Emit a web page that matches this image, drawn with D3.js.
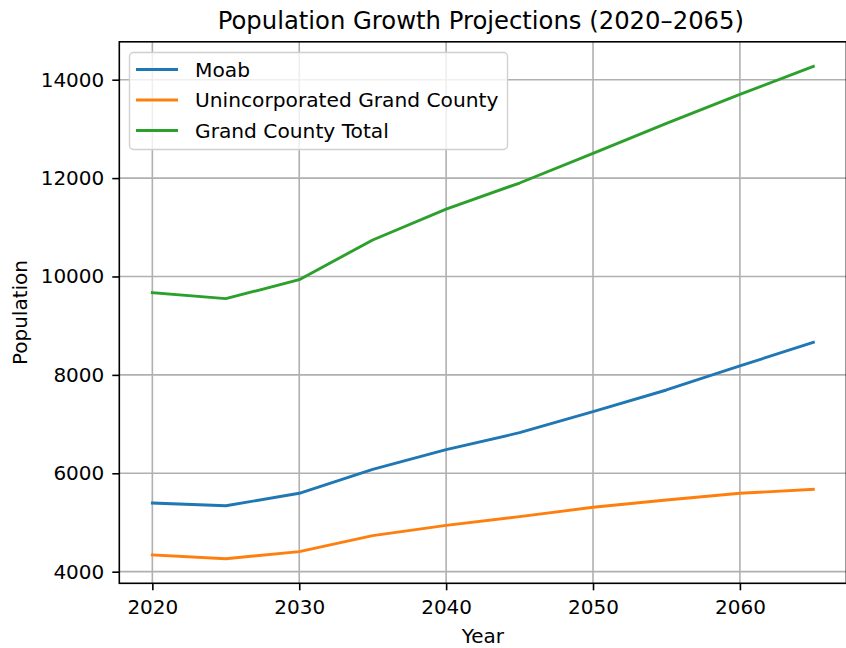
<!DOCTYPE html>
<html>
<head>
<meta charset="utf-8">
<script src="https://cdn.jsdelivr.net/npm/d3@7"></script>
<style>
  html, body { margin: 0; padding: 0; background: #fff; }
  svg { display: block; }
  text { font-family: "DejaVu Sans", sans-serif; fill: #000; }
</style>
</head>
<body>
<svg id="chart" width="846" height="648"></svg>
<script>
const years = [2020, 2025, 2030, 2035, 2040, 2045, 2050, 2055, 2060, 2065];
const moab = [5396, 5341, 5593, 6081, 6480, 6825, 7252, 7693, 8181, 8663];
const unincorporated = [4339, 4264, 4407, 4732, 4940, 5118, 5309, 5457, 5593, 5675];
const grandTotal = [9671, 9549, 9935, 10742, 11370, 11900, 12502, 13112, 13701, 14270];
const seriesNames = ["Moab", "Unincorporated Grand County", "Grand County Total"];
const seriesColors = ["#1f77b4", "#ff7f0e", "#2ca02c"];
const xTicks = [2020, 2030, 2040, 2050, 2060];
const yTicks = [4000, 6000, 8000, 10000, 12000, 14000];
const titleText = "Population Growth Projections (2020\u20132065)";
const xLabel = "Year";
const yLabel = "Population";

(function () {
const series = [moab, unincorporated, grandTotal];

const svg = d3.select("#chart");
const pL = 119.3, pR = 846.4, pT = 41.8, pB = 583.3;

// matplotlib-like 5% margins
const xExt = d3.extent(years);
const xPad = (xExt[1] - xExt[0]) * 0.05;
const allVals = series.flat();
const yExt = d3.extent(allVals);
const yPad = (yExt[1] - yExt[0]) * 0.05;

const x = d3.scaleLinear().domain([xExt[0] - xPad, xExt[1] + xPad]).range([pL, pR]);
const y = d3.scaleLinear().domain([yExt[0] - yPad, yExt[1] + yPad]).range([pB, pT]);

// grid
const grid = svg.append("g");
grid.selectAll(".gx").data(xTicks).enter().append("line")
  .attr("x1", d => x(d)).attr("x2", d => x(d))
  .attr("y1", pT).attr("y2", pB)
  .attr("stroke", "#b0b0b0").attr("stroke-width", 1.6);
grid.selectAll(".gy").data(yTicks).enter().append("line")
  .attr("x1", pL).attr("x2", pR)
  .attr("y1", d => y(d)).attr("y2", d => y(d))
  .attr("stroke", "#b0b0b0").attr("stroke-width", 1.6);

// lines
const line = d3.line().x((d, i) => x(years[i])).y(d => y(d));
series.forEach((s, k) => {
  svg.append("path").datum(s)
    .attr("d", line)
    .attr("fill", "none")
    .attr("stroke", seriesColors[k])
    .attr("stroke-width", 2.9)
    .attr("stroke-linejoin", "round")
    .attr("stroke-linecap", "square");
});

// frame
svg.append("rect").attr("x", pL).attr("y", pT)
  .attr("width", pR - pL).attr("height", pB - pT)
  .attr("fill", "none").attr("stroke", "#000").attr("stroke-width", 1.6);

// axes
const xAxis = d3.axisBottom(x).tickValues(xTicks).tickFormat(d3.format("d")).tickSize(7).tickPadding(10);
const yAxis = d3.axisLeft(y).tickValues(yTicks).tickFormat(d3.format("d")).tickSize(7).tickPadding(8);
const gx = svg.append("g").attr("transform", `translate(0,${pB})`).call(xAxis);
const gy = svg.append("g").attr("transform", `translate(${pL},0)`).call(yAxis);
[gx, gy].forEach(g => {
  g.select(".domain").remove();
  g.selectAll(".tick line").attr("stroke", "#000").attr("stroke-width", 1.6);
  g.selectAll(".tick text").attr("font-size", 20).attr("font-family", "DejaVu Sans").attr("fill", "#000");
});

// title & labels
svg.append("text").attr("x", (pL + pR) / 2 - 2).attr("y", 28.5)
  .attr("text-anchor", "middle").attr("font-size", 24.3).text(titleText);
svg.append("text").attr("x", (pL + pR) / 2).attr("y", 643)
  .attr("text-anchor", "middle").attr("font-size", 20).text(xLabel);
svg.append("text").attr("transform", `translate(27,${(pT + pB) / 2}) rotate(-90)`)
  .attr("text-anchor", "middle").attr("font-size", 20).text(yLabel);

// legend
const lg = svg.append("g");
lg.append("rect").attr("x", 129.5).attr("y", 52.5).attr("width", 378).attr("height", 97)
  .attr("rx", 4).attr("fill", "#fff").attr("fill-opacity", 0.8)
  .attr("stroke", "#d0d0d0").attr("stroke-width", 1.4);
seriesNames.forEach((name, i) => {
  const cy = 69.5 + i * 30.5;
  lg.append("line").attr("x1", 136).attr("x2", 178).attr("y1", cy).attr("y2", cy)
    .attr("stroke", seriesColors[i]).attr("stroke-width", 2.9);
  lg.append("text").attr("x", 195).attr("y", cy).attr("dy", "0.36em")
    .attr("font-size", 20.2).text(name);
});
})();
</script>
</body>
</html>
